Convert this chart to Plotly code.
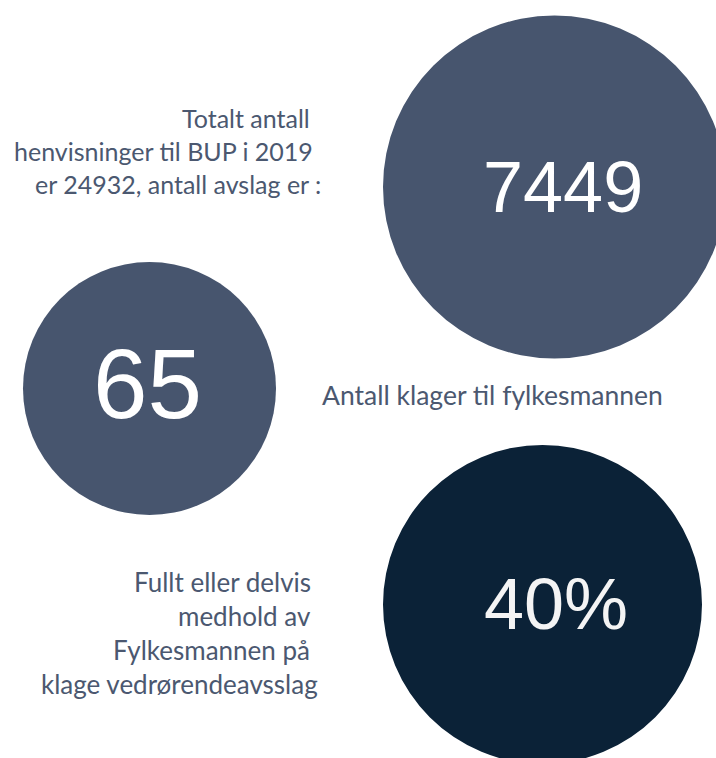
import plotly.graph_objects as go

# Data
values = ["7449", "65", "40%"]
value_colors = ["#47556e", "#47556e", "#0b2237"]
label_top = ["Totalt antall", "henvisninger til BUP i 2019", "er 24932, antall avslag er :"]
label_mid = ["Antall klager til fylkesmannen"]
label_bot = ["Fullt eller delvis", "medhold av", "Fylkesmannen på", "klage vedrørendeavsslag"]

W, H = 716, 758
fig = go.Figure()

circles = [
    dict(cx=554.5, cy=187, r=171.5, tx=563, ty=187, size=72),
    dict(cx=149.5, cy=388.5, r=126.5, tx=147, ty=384, size=98),
    dict(cx=542.5, cy=604.5, r=159.5, tx=556, ty=604, size=72),
]
shapes = []
annotations = []
for v, col, c in zip(values, value_colors, circles):
    shapes.append(dict(type="circle", xref="x", yref="y",
                       x0=c["cx"] - c["r"], x1=c["cx"] + c["r"],
                       y0=c["cy"] - c["r"], y1=c["cy"] + c["r"],
                       fillcolor=col, line=dict(width=0), layer="below"))
    annotations.append(dict(x=c["tx"], y=c["ty"], xref="x", yref="y", text=v,
                            showarrow=False, xanchor="center", yanchor="middle",
                            font=dict(family="Liberation Sans, Arial", size=c["size"],
                                      color="#f4f4f4" if v.endswith("%") else "#ffffff")))

def lab_font(size):
    return dict(family="Lato, Open Sans", size=size, color="#4b5870")

top_pos = [(312, 118), (315, 151), (323, 184)]
for t, (x, y) in zip(label_top, top_pos):
    annotations.append(dict(x=x, y=y, xref="x", yref="y", text=t, showarrow=False,
                            xanchor="right", yanchor="middle", font=lab_font(25)))
annotations.append(dict(x=320, y=395, xref="x", yref="y", text=label_mid[0], showarrow=False,
                        xanchor="left", yanchor="middle", font=lab_font(26.5)))
bot_pos = [(313, 582), (313, 616), (312, 650), (320, 684)]
for t, (x, y) in zip(label_bot, bot_pos):
    annotations.append(dict(x=x, y=y, xref="x", yref="y", text=t, showarrow=False,
                            xanchor="right", yanchor="middle", font=lab_font(26)))

fig.update_layout(
    width=W, height=H, margin=dict(l=0, r=0, t=0, b=0),
    paper_bgcolor="#ffffff", plot_bgcolor="#ffffff",
    xaxis=dict(range=[0, W], visible=False, fixedrange=True),
    yaxis=dict(range=[H, 0], visible=False, fixedrange=True),
    shapes=shapes, annotations=annotations, showlegend=False,
)
fig.write_html("out.html", config={"displayModeBar": False},
               post_script="document.body.style.margin='0';document.body.style.overflow='hidden';")
